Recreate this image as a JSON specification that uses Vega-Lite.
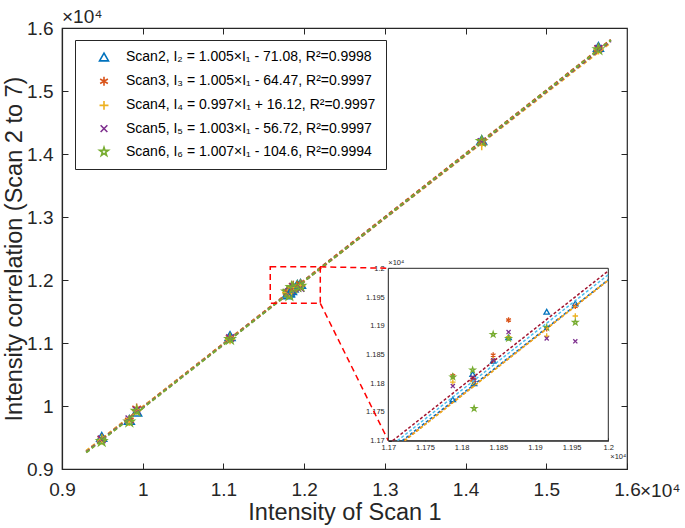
{
  "$schema": "https://vega.github.io/schema/vega-lite/v6.json",
  "width": 565,
  "height": 441,
  "autosize": {"type": "none"},
  "padding": {"left": 62, "top": 28, "right": 58, "bottom": 59},
  "background": "white",
  "config": {
    "view": {"stroke": "#262626", "strokeWidth": 1.2},
    "axis": {"grid": false, "labelFont": "Liberation Sans", "titleFont": "Liberation Sans", "labelColor": "#262626", "titleColor": "#262626", "domainColor": "#262626", "tickColor": "#262626", "titleFontWeight": "normal", "labelFlush": false, "labelOverlap": false},
    "text": {"font": "Liberation Sans", "color": "#262626"}
  },
  "datasets": {
    "pts": [
      {"x": 0.9492, "scan": "Scan2", "y": 0.951}, {"x": 0.9492, "scan": "Scan3", "y": 0.948}, {"x": 0.9492, "scan": "Scan4", "y": 0.947}, {"x": 0.9492, "scan": "Scan5", "y": 0.947}, {"x": 0.9492, "scan": "Scan6", "y": 0.944},
      {"x": 0.9834, "scan": "Scan2", "y": 0.978}, {"x": 0.9834, "scan": "Scan3", "y": 0.977}, {"x": 0.9834, "scan": "Scan4", "y": 0.976}, {"x": 0.9834, "scan": "Scan5", "y": 0.979}, {"x": 0.9834, "scan": "Scan6", "y": 0.975},
      {"x": 0.9925, "scan": "Scan2", "y": 0.991}, {"x": 0.9925, "scan": "Scan3", "y": 0.996}, {"x": 0.9925, "scan": "Scan4", "y": 0.994}, {"x": 0.9925, "scan": "Scan5", "y": 0.993}, {"x": 0.9925, "scan": "Scan6", "y": 0.992},
      {"x": 1.1082, "scan": "Scan2", "y": 1.111}, {"x": 1.1082, "scan": "Scan3", "y": 1.108}, {"x": 1.1082, "scan": "Scan4", "y": 1.106}, {"x": 1.1082, "scan": "Scan5", "y": 1.108}, {"x": 1.1082, "scan": "Scan6", "y": 1.106},
      {"x": 1.1788, "scan": "Scan2", "y": 1.1772}, {"x": 1.1788, "scan": "Scan3", "y": 1.1813}, {"x": 1.1788, "scan": "Scan4", "y": 1.1802}, {"x": 1.1788, "scan": "Scan5", "y": 1.1795}, {"x": 1.1788, "scan": "Scan6", "y": 1.1811},
      {"x": 1.1815, "scan": "Scan2", "y": 1.1816}, {"x": 1.1815, "scan": "Scan3", "y": 1.1807}, {"x": 1.1815, "scan": "Scan4", "y": 1.1803}, {"x": 1.1815, "scan": "Scan5", "y": 1.181}, {"x": 1.1815, "scan": "Scan6", "y": 1.1823},
      {"x": 1.1817, "scan": "Scan2", "y": 1.18}, {"x": 1.1817, "scan": "Scan3", "y": 1.1805}, {"x": 1.1817, "scan": "Scan4", "y": 1.1798}, {"x": 1.1817, "scan": "Scan5", "y": 1.1806}, {"x": 1.1817, "scan": "Scan6", "y": 1.1756},
      {"x": 1.1843, "scan": "Scan2", "y": 1.1839}, {"x": 1.1843, "scan": "Scan3", "y": 1.1849}, {"x": 1.1843, "scan": "Scan4", "y": 1.1841}, {"x": 1.1843, "scan": "Scan5", "y": 1.184}, {"x": 1.1843, "scan": "Scan6", "y": 1.1885},
      {"x": 1.1864, "scan": "Scan2", "y": 1.188}, {"x": 1.1864, "scan": "Scan3", "y": 1.191}, {"x": 1.1864, "scan": "Scan4", "y": 1.1881}, {"x": 1.1864, "scan": "Scan5", "y": 1.1889}, {"x": 1.1864, "scan": "Scan6", "y": 1.1878},
      {"x": 1.1916, "scan": "Scan2", "y": 1.19245}, {"x": 1.1916, "scan": "Scan3", "y": 1.1895}, {"x": 1.1916, "scan": "Scan4", "y": 1.1882}, {"x": 1.1916, "scan": "Scan5", "y": 1.1878}, {"x": 1.1916, "scan": "Scan6", "y": 1.1897},
      {"x": 1.1955, "scan": "Scan2", "y": 1.1939}, {"x": 1.1955, "scan": "Scan3", "y": 1.1934}, {"x": 1.1955, "scan": "Scan4", "y": 1.1917}, {"x": 1.1955, "scan": "Scan5", "y": 1.1873}, {"x": 1.1955, "scan": "Scan6", "y": 1.1906},
      {"x": 1.42, "scan": "Scan2", "y": 1.422}, {"x": 1.42, "scan": "Scan3", "y": 1.42}, {"x": 1.42, "scan": "Scan4", "y": 1.414}, {"x": 1.42, "scan": "Scan5", "y": 1.419}, {"x": 1.42, "scan": "Scan6", "y": 1.42},
      {"x": 1.5646, "scan": "Scan2", "y": 1.57}, {"x": 1.5646, "scan": "Scan3", "y": 1.568}, {"x": 1.5646, "scan": "Scan4", "y": 1.566}, {"x": 1.5646, "scan": "Scan5", "y": 1.567}, {"x": 1.5646, "scan": "Scan6", "y": 1.566}
    ],
    "fitMain": [
      {"scan": "Scan2", "x": 0.93, "y": 0.927542}, {"scan": "Scan2", "x": 1.58, "y": 1.580792},
      {"scan": "Scan3", "x": 0.93, "y": 0.928203}, {"scan": "Scan3", "x": 1.58, "y": 1.581453},
      {"scan": "Scan4", "x": 0.93, "y": 0.928822}, {"scan": "Scan4", "x": 1.58, "y": 1.576872},
      {"scan": "Scan5", "x": 0.93, "y": 0.927118}, {"scan": "Scan5", "x": 1.58, "y": 1.579068},
      {"scan": "Scan6", "x": 0.93, "y": 0.92605}, {"scan": "Scan6", "x": 1.58, "y": 1.5806}
    ],
    "fitInset": [
      {"scan": "Scan2", "x": 1.171252, "y": 1.17}, {"scan": "Scan2", "x": 1.2, "y": 1.198892},
      {"scan": "Scan3", "x": 1.170594, "y": 1.17}, {"scan": "Scan3", "x": 1.2, "y": 1.199553},
      {"scan": "Scan4", "x": 1.171904, "y": 1.17}, {"scan": "Scan4", "x": 1.2, "y": 1.198012},
      {"scan": "Scan5", "x": 1.172156, "y": 1.17}, {"scan": "Scan5", "x": 1.2, "y": 1.197928},
      {"scan": "Scan6", "x": 1.172254, "y": 1.17}, {"scan": "Scan6", "x": 1.2, "y": 1.19794}
    ],
    "zoomBox": [{"x0": 1.158, "x1": 1.22, "y0": 1.163, "y1": 1.221}],
    "insetBox": [{"x0": 1.17, "x1": 1.2, "y0": 1.17, "y1": 1.2}],
    "conn": [
      {"seg": "top", "x": 1.22, "y": 1.221}, {"seg": "top", "x": 1.3043, "y": 1.2186},
      {"seg": "bottom", "x": 1.22, "y": 1.163}, {"seg": "bottom", "x": 1.3043, "y": 0.9449}
    ],
    "note": [{"t": "×10⁴"}]
  },
  "layer": [
    {
      "layer": [
        {
          "data": {"name": "pts"},
          "mark": {"type": "point", "filled": false, "size": 100, "strokeWidth": 1.5, "opacity": 1},
          "encoding": {
            "x": {"field": "x", "type": "quantitative", "scale": {"domain": [0.9, 1.6], "nice": false, "zero": false},
              "axis": {"values": [0.9, 1, 1.1, 1.2, 1.3, 1.4, 1.5, 1.6], "format": ".1~f", "labelFontSize": 19, "tickSize": -6, "labelPadding": 17, "domainWidth": 1.2, "title": "Intensity of Scan 1", "titleFontSize": 23.5, "titlePadding": 1}},
            "y": {"field": "y", "type": "quantitative", "scale": {"domain": [0.9, 1.6], "nice": false, "zero": false},
              "axis": {"values": [0.9, 1, 1.1, 1.2, 1.3, 1.4, 1.5, 1.6], "format": ".1~f", "labelFontSize": 19, "tickSize": -6, "labelPadding": 15, "domainWidth": 1.2, "title": "Intensity correlation (Scan 2 to 7)", "titleFontSize": 23.5, "titlePadding": 0}},
            "color": {"field": "scan", "type": "nominal",
              "scale": {"domain": ["Scan2", "Scan3", "Scan4", "Scan5", "Scan6"], "range": ["#0072BD", "#D95319", "#EDB120", "#7E2F8E", "#77AC30"]},
              "legend": {"title": null, "orient": "none", "legendX": 13, "legendY": 12, "strokeColor": "#262626", "fillColor": "white", "padding": 10, "symbolOffset": 12, "labelOffset": 15, "symbolSize": 80, "symbolStrokeWidth": 1.6, "labelFontSize": 14, "labelFont": "Liberation Sans", "labelColor": "#000000", "rowPadding": 8.2, "labelLimit": 400,
                "labelExpr": "datum.label == 'Scan2' ? 'Scan2, I₂ = 1.005×I₁ - 71.08, R²=0.9998' : datum.label == 'Scan3' ? 'Scan3, I₃ = 1.005×I₁ - 64.47, R²=0.9997' : datum.label == 'Scan4' ? 'Scan4, I₄ = 0.997×I₁ + 16.12, R²=0.9997' : datum.label == 'Scan5' ? 'Scan5, I₅ = 1.003×I₁ - 56.72, R²=0.9997' : 'Scan6, I₆ = 1.007×I₁ - 104.6, R²=0.9994'"}},
            "shape": {"field": "scan", "type": "nominal",
              "scale": {"domain": ["Scan2", "Scan3", "Scan4", "Scan5", "Scan6"], "range": ["triangle-up", "M0,-1L0,1M-0.866,-0.5L0.866,0.5M-0.866,0.5L0.866,-0.5", "M-1,0L1,0M0,-1L0,1", "M-0.75,-0.75L0.75,0.75M-0.75,0.75L0.75,-0.75", "M0,-1L0.2245,-0.309L0.951,-0.309L0.3633,0.118L0.588,0.809L0,0.382L-0.588,0.809L-0.3633,0.118L-0.951,-0.309L-0.2245,-0.309Z"]}}
          }
        },
        {
          "data": {"name": "fitMain"},
          "mark": {"type": "line", "strokeDash": [4, 3], "strokeWidth": 2},
          "encoding": {
            "x": {"field": "x", "type": "quantitative"},
            "y": {"field": "y", "type": "quantitative"},
            "stroke": {"field": "scan", "type": "nominal", "scale": {"domain": ["Scan2", "Scan3", "Scan4", "Scan5", "Scan6"], "range": ["#0072BD", "#D95319", "#EDB120", "#7E2F8E", "#77AC30"]}, "legend": null}
          }
        },
        {
          "data": {"name": "zoomBox"},
          "mark": {"type": "rect", "fillOpacity": 0, "stroke": "#FF0000", "strokeDash": [6, 4], "strokeWidth": 1.5},
          "encoding": {
            "x": {"field": "x0", "type": "quantitative"}, "x2": {"field": "x1"},
            "y": {"field": "y0", "type": "quantitative"}, "y2": {"field": "y1"}
          }
        },
        {
          "data": {"name": "conn"},
          "mark": {"type": "line", "color": "#FF0000", "strokeDash": [6, 4], "strokeWidth": 1.5},
          "encoding": {
            "x": {"field": "x", "type": "quantitative"},
            "y": {"field": "y", "type": "quantitative"},
            "detail": {"field": "seg"}
          }
        },
        {
          "data": {"name": "note"},
          "mark": {"type": "text", "align": "left", "baseline": "alphabetic", "dy": -5, "fontSize": 19},
          "encoding": {"x": {"datum": 0.9, "type": "quantitative"}, "y": {"datum": 1.6, "type": "quantitative"}, "text": {"field": "t"}}
        },
        {
          "data": {"name": "note"},
          "mark": {"type": "text", "align": "left", "baseline": "alphabetic", "dx": 13, "dy": 28, "fontSize": 19},
          "encoding": {"x": {"datum": 1.6, "type": "quantitative"}, "y": {"datum": 0.9, "type": "quantitative"}, "text": {"field": "t"}}
        }
      ]
    },
    {
      "layer": [
        {
          "data": {"name": "insetBox"},
          "mark": {"type": "rect", "fill": "white", "stroke": "#262626", "strokeWidth": 1},
          "encoding": {
            "x": {"field": "x0", "type": "quantitative", "scale": {"domain": [1.17, 1.2], "range": [326.3, 546.3], "nice": false, "zero": false},
              "axis": {"orient": "bottom", "offset": -28.3, "values": [1.17, 1.175, 1.18, 1.185, 1.19, 1.195, 1.2], "format": ".3~f", "labelFontSize": 7.5, "tickSize": -3, "labelPadding": 6, "title": null, "domainWidth": 1}},
            "x2": {"field": "x1"},
            "y": {"field": "y0", "type": "quantitative", "scale": {"domain": [1.17, 1.2], "range": [412.7, 240.3], "nice": false, "zero": false},
              "axis": {"orient": "left", "offset": -326.3, "values": [1.17, 1.175, 1.18, 1.185, 1.19, 1.195, 1.2], "format": ".3~f", "labelFontSize": 7.5, "tickSize": -3, "labelPadding": 7, "title": null, "domainWidth": 1}},
            "y2": {"field": "y1"}
          }
        },
        {
          "data": {"name": "pts"},
          "transform": [{"filter": "datum.x >= 1.17 && datum.x <= 1.2 && datum.y >= 1.17 && datum.y <= 1.2"}],
          "mark": {"type": "point", "filled": false, "size": 30, "strokeWidth": 1.3, "opacity": 1},
          "encoding": {
            "x": {"field": "x", "type": "quantitative"},
            "y": {"field": "y", "type": "quantitative"},
            "color": {"field": "scan", "type": "nominal"},
            "shape": {"field": "scan", "type": "nominal"}
          }
        },
        {
          "data": {"name": "fitInset"},
          "mark": {"type": "line", "strokeDash": [3, 2], "strokeWidth": 1.5},
          "encoding": {
            "x": {"field": "x", "type": "quantitative"},
            "y": {"field": "y", "type": "quantitative"},
            "stroke": {"field": "scan", "type": "nominal", "scale": {"domain": ["Scan2", "Scan3", "Scan4", "Scan5", "Scan6"], "range": ["#4DBEEE", "#A2142F", "#0072BD", "#D95319", "#EDB120"]}, "legend": null}
          }
        },
        {
          "data": {"name": "note"},
          "mark": {"type": "text", "align": "left", "baseline": "alphabetic", "dy": -3, "fontSize": 7.5},
          "encoding": {"x": {"datum": 1.17, "type": "quantitative"}, "y": {"datum": 1.2, "type": "quantitative"}, "text": {"field": "t"}}
        },
        {
          "data": {"name": "note"},
          "mark": {"type": "text", "align": "left", "baseline": "alphabetic", "dx": 2, "dy": 18, "fontSize": 7.5},
          "encoding": {"x": {"datum": 1.2, "type": "quantitative"}, "y": {"datum": 1.17, "type": "quantitative"}, "text": {"field": "t"}}
        }
      ]
    },
    {
      "data": {"name": "pts"},
      "mark": {"type": "point", "opacity": 0},
      "encoding": {
        "x": {"field": "x", "type": "quantitative", "scale": {"domain": [0.9, 1.6], "nice": false, "zero": false},
          "axis": {"orient": "top", "labels": false, "domain": false, "tickSize": -6, "values": [1, 1.1, 1.2, 1.3, 1.4, 1.5], "title": null}},
        "y": {"field": "y", "type": "quantitative", "scale": {"domain": [0.9, 1.6], "nice": false, "zero": false},
          "axis": {"orient": "right", "labels": false, "domain": false, "tickSize": -6, "values": [1, 1.1, 1.2, 1.3, 1.4, 1.5], "title": null}}
      }
    }
  ],
  "resolve": {"scale": {"x": "independent", "y": "independent", "stroke": "independent"}}
}
